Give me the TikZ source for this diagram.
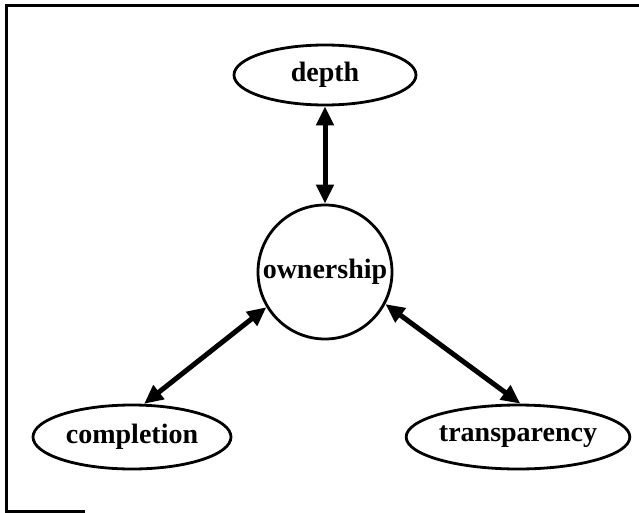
\documentclass[tikz,border=0pt]{standalone}
\usepackage{fontspec}
\usetikzlibrary{shapes.geometric,arrows.meta}
% heavy serif face for the labels
\newfontfamily\labelfont{Liberation Serif}
\begin{document}
\begin{tikzpicture}[x=1pt,y=-1pt,
  concept/.style={draw,line width=2.8pt,ellipse,inner sep=0pt,
    font=\labelfont\bfseries\fontsize{28}{32}\selectfont},
  link/.style={line width=5pt,{Triangle[length=19pt,width=17pt]}-{Triangle[length=19pt,width=17pt]}}]
  \useasboundingbox (0,0) rectangle (639,513);
  % frame
  \draw[line width=3pt] (85,511) -- (6,511) -- (6,6) -- (639,6);
  % concepts
  \node[concept,minimum width=182pt,minimum height=60pt] (depth) at (325,75) {depth};
  \node[concept,circle,minimum size=134pt] (own) at (325,272) {ownership};
  \node[concept,minimum width=198pt,minimum height=64pt] (comp) at (132,437) {completion};
  \node[concept,minimum width=216pt,minimum height=64pt] (trans) at (518,437) {transparency};
  % relations
  \draw[link] (depth.south) -- (own.north);
  \draw[link] (own.211) -- (comp.70);
  \draw[link] (own.332) -- (trans.86);
\end{tikzpicture}
\end{document}
